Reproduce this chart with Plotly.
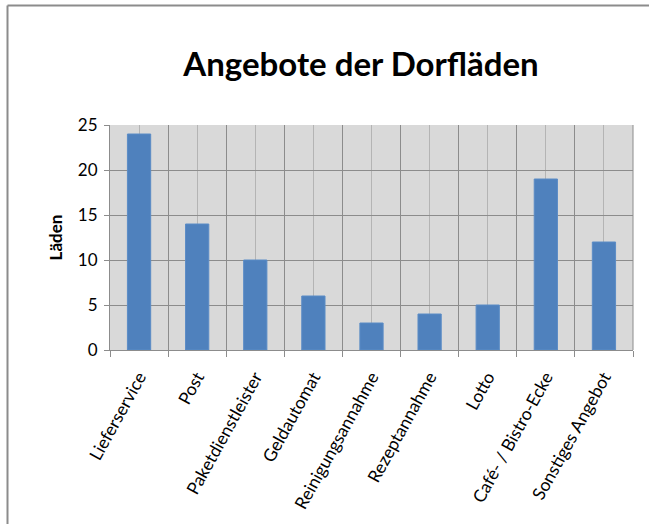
import plotly.graph_objects as go

categories = ["Lieferservice", "Post", "Paketdienstleister", "Geldautomat",
              "Reinigungsannahme", "Rezeptannahme", "Lotto",
              "Café- / Bistro-Ecke", "Sonstiges Angebot"]
values = [24, 14, 10, 6, 3, 4, 5, 19, 12]
y_ticks = [0, 5, 10, 15, 20, 25]

W, H = 649, 524
L, R, T, B = 110, 16, 125, 174
pw, ph = W - L - R, H - T - B

def px(x):
    return (x - L) / pw

def py(y):
    return (H - B - y) / ph

positions = list(range(len(categories)))

fig = go.Figure()
fig.add_trace(go.Bar(x=positions, y=values,
                     marker=dict(color="#4F81BD", line=dict(color="#5B8CC6", width=1)),
                     hoverinfo="skip"))

font_family = "Lato, Open Sans, sans-serif"

fig.update_layout(
    width=W, height=H,
    margin=dict(l=L, r=R, t=T, b=B),
    paper_bgcolor="white",
    plot_bgcolor="#D9D9D9",
    showlegend=False,
    bargap=0.6,
    title=dict(text="<b>Angebote der Dorfläden</b>", x=361 / W, xanchor="center",
               y=1 - 64 / H, yanchor="middle",
               font=dict(family=font_family, size=33, color="black")),
    xaxis=dict(range=[-0.5, len(categories) - 0.5],
               tickvals=positions, ticktext=categories,
               showgrid=True, gridcolor="#B4B4B4", gridwidth=1, ticks="",
               ticklabelstandoff=9,
               showline=True, linecolor="#8C8C8C", zeroline=False, tickangle=-61,
               tickfont=dict(family=font_family, size=17.5, color="black"),
               minor=dict(tick0=-0.5, dtick=1, showgrid=True, gridcolor="#8C8C8C",
                          ticks="outside", ticklen=6, tickcolor="#8C8C8C")),
    yaxis=dict(range=[0, 25], tickvals=y_ticks, showgrid=True, gridcolor="#8C8C8C",
               ticks="outside", ticklen=5, tickcolor="#8C8C8C", showline=True,
               linecolor="#8C8C8C", zeroline=False, ticklabelstandoff=3,
               tickfont=dict(family=font_family, size=17, color="black"),
               title=dict(text="<b>Läden</b>", font=dict(family=font_family, size=17, color="black"),
                          standoff=10)),
    shapes=[
        dict(type="line", xref="paper", yref="paper", x0=px(7.5), x1=px(649), y0=py(5.5), y1=py(5.5),
             line=dict(color="#8C8C8C", width=2)),
        dict(type="line", xref="paper", yref="paper", x0=px(7.5), x1=px(7.5), y0=py(5.5), y1=py(524),
             line=dict(color="#8C8C8C", width=2)),
        dict(type="line", xref="paper", yref="paper", x0=1, x1=1, y0=0, y1=1,
             line=dict(color="#8C8C8C", width=1), layer="below"),
    ],
)

fig.write_html("out.html", config={"displayModeBar": False},
               post_script="document.body.style.margin='0';")
